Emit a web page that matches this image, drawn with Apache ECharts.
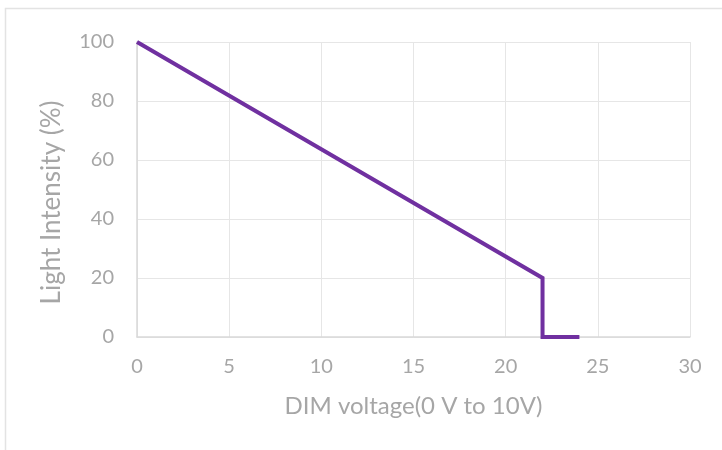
<!DOCTYPE html>
<html><head><meta charset="utf-8">
<script src="https://cdn.jsdelivr.net/npm/echarts@6/dist/echarts.min.js"></script>
<style>html,body{margin:0;padding:0;background:#fff}#c{width:722px;height:450px}</style>
</head><body><div id="c"></div>
<script>
const xValues = [0, 22, 22, 24];
const yValues = [100, 20, 0, 0];
const xTicks = [0, 5, 10, 15, 20, 25, 30];
const yTicks = [0, 20, 40, 60, 80, 100];
const xTitle = 'DIM voltage(0 V to 10V)';
const yTitle = 'Light Intensity (%)';

const font = 'Lato, "Open Sans", sans-serif';
const chart = echarts.init(document.getElementById('c'), null, {renderer: 'canvas'});
chart.setOption({
  animation: false,
  graphic: [{
    type: 'rect', shape: {x: 5.5, y: 8.5, width: 740, height: 460},
    style: {fill: 'none', stroke: '#e3e3e3', lineWidth: 1.5}, silent: true
  }],
  grid: {left: 137, right: 32, top: 42, bottom: 113},
  xAxis: {
    type: 'value', min: xTicks[0], max: xTicks[xTicks.length - 1], interval: 5,
    name: xTitle, nameLocation: 'middle', nameGap: 57,
    nameTextStyle: {color: '#a6a6a6', fontSize: 24, fontFamily: font},
    axisLine: {show: true, lineStyle: {color: '#d9d9d9', width: 1.5}},
    axisTick: {show: false},
    axisLabel: {color: '#a6a6a6', fontSize: 20, fontFamily: font, margin: 20},
    splitLine: {show: true, lineStyle: {color: '#e6e6e6', width: 1}}
  },
  yAxis: {
    type: 'value', min: yTicks[0], max: yTicks[yTicks.length - 1], interval: 20,
    name: yTitle, nameLocation: 'middle', nameGap: 72,
    nameTextStyle: {color: '#a6a6a6', fontSize: 26, fontFamily: font, padding: [0, 26, 0, 0]},
    axisLine: {show: true, lineStyle: {color: '#d9d9d9', width: 1.5}},
    axisTick: {show: false},
    axisLabel: {color: '#a6a6a6', fontSize: 20, fontFamily: font, margin: 23},
    splitLine: {show: true, lineStyle: {color: '#e6e6e6', width: 1}}
  },
  series: [{
    type: 'line',
    data: xValues.map((x, i) => [x, yValues[i]]),
    showSymbol: false, symbol: 'none',
    lineStyle: {color: '#7030a0', width: 4, join: 'miter'},
    itemStyle: {color: '#7030a0'}
  }]
});
</script></body></html>
